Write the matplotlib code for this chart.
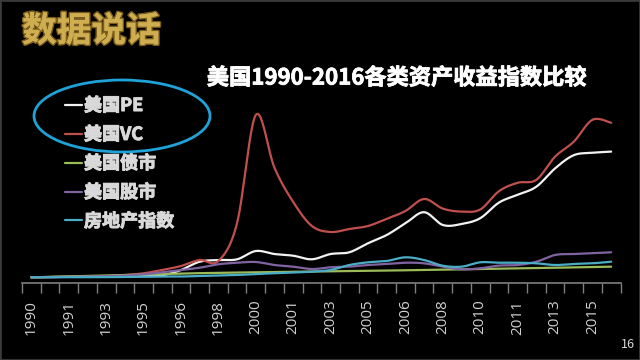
import matplotlib

matplotlib.use("Agg")
import matplotlib.pyplot as plt
import matplotlib.patheffects as pe
import numpy as np
from matplotlib.patches import Ellipse, Rectangle

plt.rcParams["font.family"] = ["Noto Sans CJK SC", "DejaVu Sans"]

# 32 categories, every other one labelled on the axis
years = ["1990", "1990", "1991", "1992", "1993", "1994", "1995", "1995",
         "1996", "1997", "1998", "1999", "2000", "2000", "2001", "2002",
         "2003", "2004", "2005", "2005", "2006", "2007", "2008", "2009",
         "2010", "2010", "2011", "2012", "2013", "2014", "2015", "2016"]

pe_us = [0.95, 1.00, 1.03, 1.07, 1.10, 1.13, 1.17, 1.28, 2.17, 3.55, 3.83, 3.95,
         5.33, 4.83, 4.55, 3.95, 4.83, 5.12, 6.62, 8.00, 9.95, 11.8, 9.67, 9.83,
         10.8, 13.4, 14.7, 16.05, 19.1, 21.3, 21.7, 21.9]
vc_us = [0.95, 1.00, 1.03, 1.08, 1.13, 1.33, 1.62, 2.17, 2.83, 3.83, 3.67, 10.0,
         28.0, 19.2, 13.5, 9.5, 8.5, 9.0, 9.5, 10.7, 12.0, 14.0, 12.4, 11.9,
         12.25, 15.3, 16.7, 17.2, 21.05, 23.55, 27.2, 26.7]
bond_us = [0.95, 1.02, 1.10, 1.18, 1.25, 1.33, 1.42, 1.50, 1.58, 1.64, 1.70, 1.74,
           1.78, 1.82, 1.86, 1.90, 1.94, 1.98, 2.02, 2.07, 2.12, 2.17, 2.22, 2.27,
           2.32, 2.38, 2.44, 2.50, 2.55, 2.60, 2.66, 2.72]
stock_us = [0.95, 0.98, 1.02, 1.07, 1.13, 1.23, 1.45, 1.78, 2.17, 2.55, 3.12, 3.38,
            3.50, 3.00, 2.72, 2.33, 2.62, 2.72, 3.00, 3.17, 3.38, 3.28, 2.72, 2.28,
            2.45, 2.90, 3.00, 3.55, 4.67, 4.83, 4.95, 5.12]
house = [0.95, 0.95, 0.97, 0.97, 0.98, 1.00, 1.03, 1.08, 1.08, 1.17, 1.25, 1.33,
         1.50, 1.62, 1.72, 1.88, 2.17, 3.00, 3.45, 3.67, 4.28, 3.83, 2.88, 2.72,
         3.45, 3.38, 3.38, 3.28, 3.00, 3.17, 3.28, 3.55]

series = [
    ("美国PE", pe_us, "#f2f2f2"),
    ("美国VC", vc_us, "#c0504d"),
    ("美国债市", bond_us, "#9bbb59"),
    ("美国股市", stock_us, "#8064a2"),
    ("房地产指数", house, "#4bacc6"),
]


def smooth(x, y, n=24):
    """Excel-style smoothed line (cubic Bezier through the points)."""
    pts = np.column_stack([x, y]).astype(float)
    p = np.vstack([pts[0], pts, pts[-1]])
    t = np.linspace(0, 1, n, endpoint=False)[:, None]
    out = []
    for i in range(1, len(p) - 2):
        p0, p1, p2, p3 = p[i - 1], p[i], p[i + 1], p[i + 2]
        c1 = p1 + (p2 - p0) / 6
        c2 = p2 - (p3 - p1) / 6
        out.append((1 - t) ** 3 * p1 + 3 * (1 - t) ** 2 * t * c1
                   + 3 * (1 - t) * t ** 2 * c2 + t ** 3 * p2)
    out.append(pts[-1:])
    b = np.vstack(out)
    return b[:, 0], b[:, 1]


fig = plt.figure(figsize=(6.4, 3.6), dpi=100, facecolor="black")
ax = fig.add_axes([22 / 640, 77 / 360, 598.5 / 640, 183 / 360])
ax.set_facecolor("black")

x = np.arange(len(years))
handles = []
for name, vals, col in series:
    sx, sy = smooth(x, vals)
    (ln,) = ax.plot(sx, sy, color=col, lw=1.6, label=name, solid_capstyle="round")
    handles.append(ln)

ax.set_xlim(-0.5, len(years) - 0.5)
ax.set_ylim(0, 30.5)
for s in ["top", "right", "left"]:
    ax.spines[s].set_visible(False)
ax.spines["bottom"].set_color("#7f7f7f")
ax.spines["bottom"].set_linewidth(1.2)
ax.set_yticks([])

ax.set_xticks(x[::2])
ax.set_xticklabels(years[::2], rotation=90, fontsize=11, color="#d0d0d0",
                   family=["Open Sans", "DejaVu Sans"])
ax.tick_params(axis="x", length=0, pad=12)
ax.set_xticks(np.arange(-0.5, len(years)), minor=True)
ax.tick_params(axis="x", which="minor", length=7, width=1, color="#7f7f7f")

leg = fig.legend(handles=handles, loc="upper left",
                 bbox_to_anchor=(56 / 640, 1 - 87 / 360), frameon=False,
                 handlelength=0.95, handletextpad=0.1, labelspacing=0.55,
                 borderpad=0, prop={"size": 13, "weight": "bold"})
for t in leg.get_texts():
    t.set_color("#d9d9d9")
    t.set_path_effects([pe.withStroke(linewidth=0.7, foreground="#d9d9d9")])
for h in leg.legend_handles:
    h.set_linewidth(1.6)

fig.text(397 / 640, 1 - 78 / 360, "美国1990-2016各类资产收益指数比较",
         ha="center", va="center", color="white", fontsize=16, fontweight="bold",
         path_effects=[pe.withStroke(linewidth=0.6, foreground="white")])

fig.text(22 / 640, 1 - 31 / 360, "数据说话", ha="left", va="center",
         color="#cfae52", fontsize=25, fontweight="heavy",
         path_effects=[pe.withStroke(linewidth=2.2, foreground="#7a5c1c"),
                       pe.Normal()])

fig.patches.append(Ellipse((122 / 640, 1 - 116 / 360), 176 / 640, 72 / 360,
                           transform=fig.transFigure, fill=False,
                           edgecolor="#1fa2d8", lw=2))
fig.patches.append(Rectangle((0, 0), 1, 1, transform=fig.transFigure,
                             fill=False, edgecolor="#3a3a3a", lw=2))

fig.text(628 / 640, 1 - 344 / 360, "16", ha="center", va="center",
         color="#d9d9d9", fontsize=9)

fig.savefig("out.png", dpi=100, facecolor="black")
